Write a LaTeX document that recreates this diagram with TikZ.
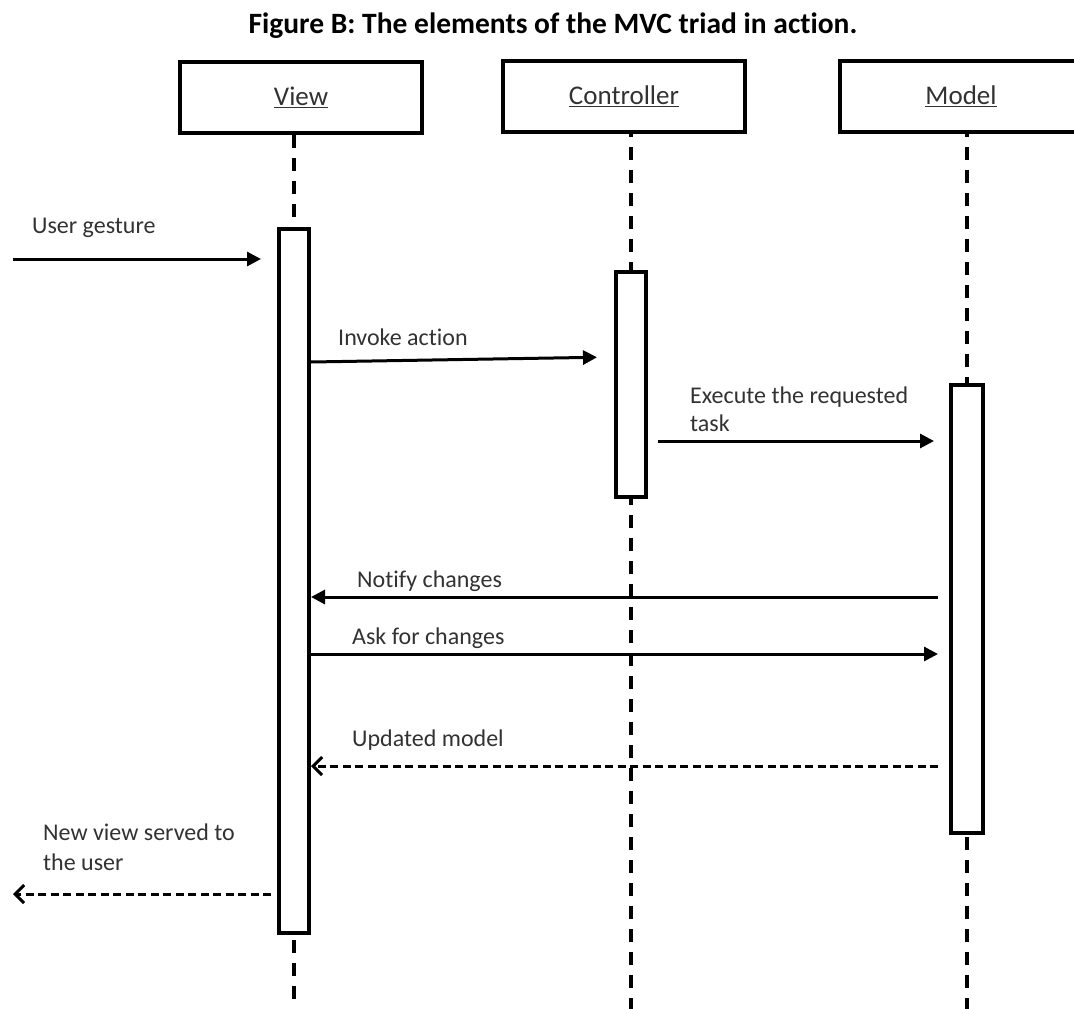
\documentclass[tikz,border=0pt]{standalone}
\usepackage{fontspec}
\setmainfont{Carlito}[Ligatures=NoCommon]
\usetikzlibrary{arrows.meta,calc}
\definecolor{labelgray}{RGB}{50,50,50}
\begin{document}
\begin{tikzpicture}[x=1pt,y=-1pt,
  head/.style={draw,line width=4.5pt,minimum width=242pt,minimum height=71pt,
    inner sep=0pt,font=\fontsize{27}{30}\selectfont,text=labelgray},
  actbar/.style={draw,line width=4pt,minimum width=30pt,inner sep=0pt,fill=white},
  life/.style={line width=3.5pt,dash pattern=on 13pt off 10pt},
  msg/.style={line width=3pt,-{Triangle[length=14pt,width=14pt]}},
  reply/.style={line width=3pt,dash pattern=on 8pt off 4.5pt,
    -{Straight Barb[length=9pt,width=18pt,line width=3pt]}},
  lbl/.style={anchor=base west,inner sep=0pt,align=left,
    font=\fontsize{24}{28}\selectfont,text=labelgray}]
\useasboundingbox (0,0) rectangle (1074,1009);
\clip (0,0) rectangle (1074,1009);

% title
\node[anchor=base,font=\bfseries\fontsize{29.5}{33}\selectfont] (title) at (553,33)
  {Figure B: The elements of the MVC triad in action.};

% participant heads
\node[head] (view) at (301,97.5) {\underline{View}};
\node[head] (ctrl) at (624,96.5) {\underline{Controller}};
\node[head] (model) at (961,96.5) {\underline{Model}};

% lifeline ends at the bottom edge
\coordinate (vend) at (294,1009);
\coordinate (cend) at (631,1009);
\coordinate (mend) at (967,1009);

% lifelines (drawn first so the bars sit on top)
\draw[life] (view.south -| vend) -- (vend);
\draw[life,dash phase=10pt] (ctrl.south -| cend) -- (cend);
\draw[life,dash phase=10pt] (model.south -| mend) -- (mend);

% activation bars
\node[actbar,minimum height=704pt] (vbar) at (294,581) {};
\node[actbar,minimum height=225pt] (cbar) at (631,384.5) {};
\node[actbar,minimum width=32pt,minimum height=448pt] (mbar) at (967,609) {};

% free ends on the left edge
\coordinate (user-in) at (13,259);
\coordinate (user-out) at (13,894);

% messages
\draw[msg,shorten >=16pt] (user-in) -- (vbar.west |- user-in);
\draw[msg,shorten >=17pt] (vbar.east |- 0,362) -- (cbar.west |- 0,357);
\draw[msg,shorten <=10pt,shorten >=15pt] (cbar.east |- 0,441) -- (mbar.west |- 0,441);
\draw[msg,shorten <=11pt] (mbar.west |- 0,597) -- (vbar.east |- 0,597);
\draw[msg,shorten >=11pt] (vbar.east |- 0,654) -- (mbar.west |- 0,654);
\draw[reply,shorten <=11pt] (mbar.west |- 0,766) -- (vbar.east |- 0,766);
\draw[reply,shorten <=6pt] (vbar.west |- user-out) -- (user-out);

% message labels
\node[lbl] (l-user) at (32,233) {User gesture};
\node[lbl] (l-invoke) at (338,345) {Invoke action};
\node[lbl] (l-exec) at (690,431) {Execute the requested\\task};
\node[lbl] (l-notify) at (357,587) {Notify changes};
\node[lbl] (l-ask) at (352,644) {Ask for changes};
\node[lbl] (l-upd) at (352,746) {Updated model};
\node[lbl,font=\fontsize{24}{30}\selectfont] (l-new) at (43,870) {New view served to\\the user};
\end{tikzpicture}
\end{document}
